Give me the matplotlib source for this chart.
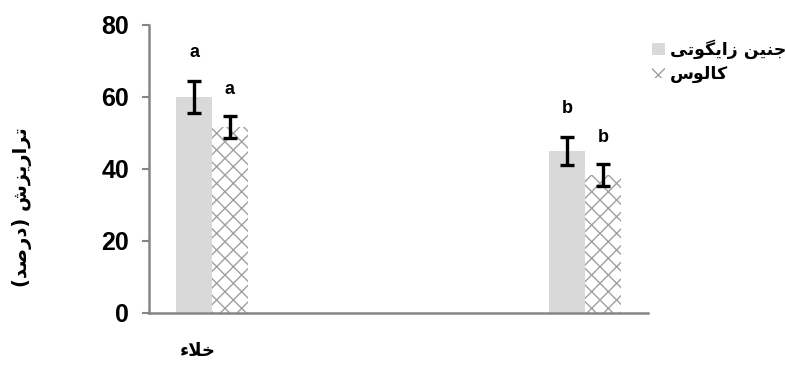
import matplotlib
matplotlib.use("Agg")
import matplotlib.pyplot as plt
from matplotlib.transforms import ScaledTranslation
import numpy as np

# data
groups = ["خلاء", ""]
series_names = ["جنین زایگوتی", "کالوس"]
embryo_vals = [60.0, 45.0]
embryo_err = [4.4, 3.9]
callus_vals = [51.7, 38.3]
callus_err = [3.0, 3.0]
embryo_letters = ["a", "b"]
callus_letters = ["a", "b"]
ylabel_text = "تراریزش (درصد)"

# presentation forms: isolated, final, initial, medial (None = right-joining only)
FORMS = {
    "ج": ("\uFE9D", "\uFE9E", "\uFE9F", "\uFEA0"),
    "ن": ("\uFEE5", "\uFEE6", "\uFEE7", "\uFEE8"),
    "ی": ("\uFBFC", "\uFBFD", "\uFBFE", "\uFBFF"),
    "گ": ("\uFB92", "\uFB93", "\uFB94", "\uFB95"),
    "ت": ("\uFE95", "\uFE96", "\uFE97", "\uFE98"),
    "ک": ("\uFB8E", "\uFB8F", "\uFB90", "\uFB91"),
    "ل": ("\uFEDD", "\uFEDE", "\uFEDF", "\uFEE0"),
    "س": ("\uFEB1", "\uFEB2", "\uFEB3", "\uFEB4"),
    "ش": ("\uFEB5", "\uFEB6", "\uFEB7", "\uFEB8"),
    "ص": ("\uFEB9", "\uFEBA", "\uFEBB", "\uFEBC"),
    "خ": ("\uFEA5", "\uFEA6", "\uFEA7", "\uFEA8"),
    "ز": ("\uFEAF", "\uFEB0", None, None),
    "ا": ("\uFE8D", "\uFE8E", None, None),
    "و": ("\uFEED", "\uFEEE", None, None),
    "ر": ("\uFEAD", "\uFEAE", None, None),
    "د": ("\uFEA9", "\uFEAA", None, None),
    "ء": ("\uFE80", None, None, None),
}
MIRROR = {"(": ")", ")": "("}


def joins_left(ch):
    return ch in FORMS and FORMS[ch][2] is not None


def joins_right(ch):
    return ch in FORMS and FORMS[ch][1] is not None


def shape(text):
    # pick contextual glyphs, then reverse into visual order
    out = []
    i = 0
    n = len(text)
    while i < n:
        ch = text[i]
        prev = text[i - 1] if i > 0 else ""
        after_join = joins_left(prev)
        if ch == "ل" and i + 1 < n and text[i + 1] == "ا":
            out.append("\uFEFC" if after_join else "\uFEFB")
            i += 2
            continue
        if ch not in FORMS:
            out.append(MIRROR.get(ch, ch))
            i += 1
            continue
        nxt = text[i + 1] if i + 1 < n else ""
        before_join = joins_left(ch) and joins_right(nxt)
        iso, fin, ini, med = FORMS[ch]
        if after_join and before_join:
            g = med
        elif after_join:
            g = fin
        elif before_join:
            g = ini
        else:
            g = iso
        out.append(g)
        i += 1
    return "".join(reversed(out))


plt.rcParams["font.family"] = ["Liberation Sans", "DejaVu Sans"]
plt.rcParams["hatch.linewidth"] = 1.0
fa_font = dict(family=["DejaVu Sans"], fontweight="bold")

fig = plt.figure(figsize=(7.86, 3.69), dpi=100)
ax = fig.add_axes([0.1896, 0.1518, 0.6349, 0.7805])

x = np.arange(len(groups))
w = 0.096
b1 = ax.bar(x - w / 2, embryo_vals, w, color="#d9d9d9", linewidth=0,
            label=shape(series_names[0]))
b2 = ax.bar(x + w / 2, callus_vals, w, color="white", edgecolor="#a0a0a0", hatch="xx",
            linewidth=0, label=shape(series_names[1]))

ax.errorbar(x - w / 2, embryo_vals, yerr=embryo_err, fmt="none", ecolor="black",
            elinewidth=2.4, capsize=5, capthick=2.4)
ax.errorbar(x + w / 2, callus_vals, yerr=callus_err, fmt="none", ecolor="black",
            elinewidth=2.4, capsize=5, capthick=2.4)

for xi, v, e, s in zip(x - w / 2, embryo_vals, embryo_err, embryo_letters):
    ax.text(xi, v + e + 8, s, ha="center", va="center", fontsize=13, fontweight="bold")
for xi, v, e, s in zip(x + w / 2, callus_vals, callus_err, callus_letters):
    ax.text(xi, v + e + 7.5, s, ha="center", va="center", fontsize=13, fontweight="bold")

ax.set_xlim(-0.169, 1.169)
ax.set_ylim(0, 80)
ax.set_yticks([0, 20, 40, 60, 80])
ax.tick_params(axis="y", labelsize=18, width=1.5, length=5, color="#868686", pad=9.5)
for lbl in ax.get_yticklabels():
    lbl.set_fontweight("bold")
ax.set_xticks(x)
ax.set_xticklabels([shape(g) for g in groups], fontsize=13, **fa_font)
ax.tick_params(axis="x", length=0, pad=21)
shift = ScaledTranslation(-0.14, 0, fig.dpi_scale_trans)
for lbl in ax.get_xticklabels():
    lbl.set_transform(lbl.get_transform() + shift)

for side in ["top", "right"]:
    ax.spines[side].set_visible(False)
for side in ["left", "bottom"]:
    ax.spines[side].set_color("#868686")
    ax.spines[side].set_linewidth(1.8)

ax.set_ylabel(shape(ylabel_text), fontsize=14, va="center", **fa_font)
ax.yaxis.set_label_coords(-0.2545, 0.368)

fig.legend(handles=[b1, b2], loc="upper right", bbox_to_anchor=(1.02, 0.935),
           frameon=False, prop=dict(family="DejaVu Sans", weight="bold", size=12.5),
           handlelength=0.7, handleheight=0.7, handletextpad=0.3, labelspacing=0.3)

fig.savefig("out.png", dpi=100)
